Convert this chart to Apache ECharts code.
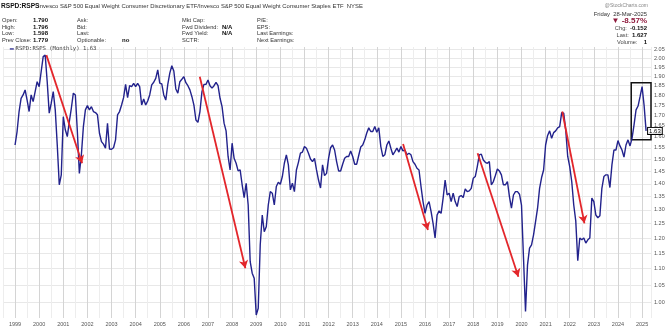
<!DOCTYPE html>
<html><head><meta charset="utf-8">
<script src="https://cdn.jsdelivr.net/npm/echarts@6/dist/echarts.min.js"></script>
<style>html,body{margin:0;padding:0;background:#fff}#c{width:670px;height:328px}</style>
</head><body><div id="c"></div>
<script>
// ---- data (monthly RSPD:RSPS ratio, Jan 1999 .. Mar 2025) ----
const startYear = 1999;
const ratio1999 = [1.563,1.624,1.719,1.785,1.802,1.828,1.776,1.719,1.802,1.768,1.819,1.871];
const ratio2000 = [1.845,1.926,2.009,2.018,1.871,1.711,1.760,1.819,1.727,1.563,1.396,1.436];
const ratio2001 = [1.694,1.632,1.601,1.670,1.735,1.811,1.802,1.624,1.442,1.520,1.647,1.727];
const ratio2002 = [1.748,1.727,1.743,1.719,1.714,1.703,1.616,1.578,1.567,1.549,1.663,1.545];
const ratio2003 = [1.544,1.551,1.586,1.703,1.719,1.751,1.788,1.857,1.788,1.850,1.845,1.862];
const ratio2004 = [1.845,1.862,1.845,1.751,1.781,1.751,1.771,1.802,1.854,1.868,1.889,1.935];
const ratio2005 = [1.864,1.859,1.802,1.776,1.857,1.917,1.958,1.929,1.833,1.811,1.871,1.884];
const ratio2006 = [1.898,1.866,1.850,1.828,1.793,1.751,1.678,1.667,1.719,1.819,1.857,1.857];
const ratio2007 = [1.880,1.850,1.837,1.850,1.868,1.850,1.785,1.743,1.663,1.627,1.513,1.456];
const ratio2008 = [1.571,1.505,1.484,1.452,1.456,1.396,1.346,1.402,1.318,1.122,1.086,1.070];
const ratio2009 = [0.964,0.983,1.177,1.281,1.222,1.239,1.318,1.369,1.363,1.318,1.389,1.406];
const ratio2010 = [1.398,1.429,1.484,1.520,1.477,1.376,1.402,1.369,1.456,1.488,1.527,1.532];
const ratio2011 = [1.556,1.549,1.527,1.502,1.491,1.505,1.456,1.415,1.383,1.477,1.433,1.442];
const ratio2012 = [1.505,1.551,1.563,1.541,1.491,1.452,1.452,1.480,1.505,1.513,1.513,1.537];
const ratio2013 = [1.513,1.480,1.480,1.517,1.554,1.563,1.586,1.617,1.641,1.624,1.624,1.647];
const ratio2014 = [1.621,1.641,1.556,1.513,1.520,1.563,1.581,1.549,1.520,1.534,1.549,1.532];
const ratio2015 = [1.556,1.537,1.541,1.520,1.527,1.520,1.491,1.480,1.463,1.456,1.389,1.331];
const ratio2016 = [1.287,1.318,1.331,1.294,1.251,1.200,1.281,1.296,1.287,1.344,1.415,1.356];
const ratio2017 = [1.363,1.331,1.363,1.331,1.312,1.350,1.354,1.346,1.380,1.369,1.372,1.382];
const ratio2018 = [1.422,1.429,1.470,1.520,1.523,1.498,1.488,1.484,1.491,1.396,1.409,1.433];
const ratio2019 = [1.460,1.452,1.436,1.396,1.396,1.409,1.350,1.306,1.356,1.369,1.369,1.359];
const ratio2020 = [1.318,1.134,0.974,1.112,1.166,1.177,1.211,1.257,1.306,1.382,1.425,1.456];
const ratio2021 = [1.563,1.606,1.627,1.593,1.619,1.627,1.641,1.647,1.714,1.711,1.632,1.513];
const ratio2022 = [1.470,1.409,1.318,1.260,1.125,1.200,1.194,1.200,1.183,1.194,1.200,1.344];
const ratio2023 = [1.331,1.281,1.271,1.278,1.382,1.429,1.436,1.436,1.385,1.477,1.541,1.541];
const ratio2024 = [1.583,1.559,1.541,1.510,1.563,1.586,1.559,1.593,1.655,1.727,1.746,1.793];
const ratio2025 = [1.845,1.750,1.627];

const yTickValues = [1.00,1.05,1.10,1.15,1.20,1.25,1.30,1.35,1.40,1.45,1.50,1.55,1.60,1.65,1.70,1.75,1.80,1.85,1.90,1.95,2.00,2.05];
const xYearLabels = [1999,2000,2001,2002,2003,2004,2005,2006,2007,2008,2009,2010,2011,2012,2013,2014,2015,2016,2017,2018,2019,2020,2021,2022,2023,2024,2025];
const lastValueLabel = '1.63';

// annotation arrows: [fromYear, fromValue, toYear, toValue]
const trendArrows = [
  [2000.30, 2.018, 2001.78, 1.484],
  [2006.66, 1.898, 2008.55, 1.101],
  [2015.09, 1.567, 2016.12, 1.228],
  [2018.18, 1.527, 2019.87, 1.075],
  [2021.69, 1.719, 2022.61, 1.251]
];
// annotation box: [fromYear, topValue, toYear, bottomValue]
const highlightBox = [2024.55, 1.866, 2025.37, 1.586];

// ---- build ----
const allValues = [].concat(ratio1999,ratio2000,ratio2001,ratio2002,ratio2003,ratio2004,ratio2005,
  ratio2006,ratio2007,ratio2008,ratio2009,ratio2010,ratio2011,ratio2012,ratio2013,ratio2014,
  ratio2015,ratio2016,ratio2017,ratio2018,ratio2019,ratio2020,ratio2021,ratio2022,ratio2023,
  ratio2024,ratio2025);
const seriesData = allValues.map((v, i) => [startYear + i / 12, Math.log(v)]);
const logTicks = yTickValues.map(v => Math.log(v));

const FONT = '"Liberation Sans", Arial, sans-serif';
function txt(text, x, y, size, opt) {
  opt = opt || {};
  return {
    type: 'text', silent: true, z: 10,
    style: Object.assign({
      text: text, x: x, y: y,
      font: (opt.bold ? 'bold ' : '') + size + 'px ' + (opt.family || FONT),
      fill: opt.fill || '#333',
      align: opt.align || 'left',
      verticalAlign: 'middle'
    }, opt.extra || {})
  };
}
const LS = 5.7;
const graphics = [
  txt('RSPD:RSPS', 1, 6, 6.6, {bold: true, fill: '#111'}),
  txt('Invesco S&P 500 Equal Weight Consumer Discretionary ETF/Invesco S&P 500 Equal Weight Consumer Staples ETF  NYSE', 38, 6.5, 5.9, {fill: '#333'}),
  // info block
  txt('Open:', 2, 20.5, LS), txt('1.790', 33, 20.5, 6, {bold: true, fill: '#111'}),
  txt('High:', 2, 27, LS), txt('1.796', 33, 27, 6, {bold: true, fill: '#111'}),
  txt('Low:', 2, 33.5, LS), txt('1.598', 33, 33.5, 6, {bold: true, fill: '#111'}),
  txt('Prev Close:', 2, 40, LS), txt('1.779', 33, 40, 6, {bold: true, fill: '#111'}),
  txt('Ask:', 77, 20.5, LS), txt('Bid:', 77, 27, LS), txt('Last:', 77, 33.5, LS),
  txt('Optionable:', 77, 40, LS), txt('no', 122, 40.5, 6, {bold: true, fill: '#111'}),
  txt('Mkt Cap:', 182, 20.5, LS),
  txt('Fwd Dividend:', 182, 27, LS), txt('N/A', 222, 27, 6, {bold: true, fill: '#111'}),
  txt('Fwd Yield:', 182, 33.5, LS), txt('N/A', 222, 33.5, 6, {bold: true, fill: '#111'}),
  txt('SCTR:', 182, 40, LS),
  txt('P/E:', 257, 20.5, LS), txt('EPS:', 257, 27, LS),
  txt('Last Earnings:', 257, 33.5, LS), txt('Next Earnings:', 257, 40, LS),
  // right block
  txt('@StockCharts.com', 648, 5.5, 5, {align: 'right', fill: '#888'}),
  txt('Friday  28-Mar-2025', 647, 14, 5.9, {align: 'right', fill: '#333'}),
  txt('\u25BC -8.57%', 647, 21, 8, {align: 'right', bold: true, fill: '#8e1a3c'}),
  txt('Chg:  -0.152', 647, 28, 5.6, {align: 'right', fill: '#222',
      extra: {text: '{a|Chg:}  {b|-0.152}', rich: {a: {font: '5.7px ' + FONT, fill: '#444'}, b: {font: 'bold 6px ' + FONT, fill: '#111'}}}}),
  txt('Last:  1.627', 647, 35.5, 5.6, {align: 'right', fill: '#222',
      extra: {text: '{a|Last:}  {b|1.627}', rich: {a: {font: '5.7px ' + FONT, fill: '#444'}, b: {font: 'bold 6px ' + FONT, fill: '#111'}}}}),
  txt('Volume:  1', 647, 42, 5.6, {align: 'right', fill: '#222',
      extra: {text: '{a|Volume:}    {b|1}', rich: {a: {font: '5.7px ' + FONT, fill: '#444'}, b: {font: 'bold 6px ' + FONT, fill: '#111'}}}}),
  // legend
  txt('RSPD:RSPS (Monthly) 1.63', 10, 49, 5.6, {fill: '#444',
      extra: {text: '{d|\u2501} {a|RSPD:RSPS (Monthly) 1.63}', rich: {
        d: {font: 'bold 6px ' + FONT, fill: '#22228c'},
        a: {font: '5.6px "DejaVu Sans Mono", "Liberation Mono", monospace', fill: '#444'}}}})
];

const chart = echarts.init(document.getElementById('c'), null, {renderer: 'canvas'});
chart.setOption({
  animation: false,
  backgroundColor: '#fff',
  grid: {left: 0, right: 19, top: 47, bottom: 10, containLabel: false},
  xAxis: {
    type: 'value',
    min: 1998.5, max: 2025.37, interval: 0.5,
    axisLine: {show: false},
    axisTick: {show: false},
    axisLabel: {
      fontSize: 5.5, color: '#555', margin: 3, fontFamily: FONT,
      formatter: v => (xYearLabels.indexOf(Math.round(v * 2) / 2) >= 0 ? String(Math.round(v)) : '')
    },
    splitLine: {show: true, lineStyle: {color: ['#ededed', '#d4d4d4'], width: 1}}
  },
  yAxis: {
    type: 'value', position: 'right',
    min: Math.log(0.956), max: Math.log(2.065),
    axisLine: {show: false},
    axisTick: {show: false, customValues: logTicks},
    axisLabel: {
      customValues: logTicks,
      fontSize: 5.5, color: '#555', margin: 3, fontFamily: FONT,
      formatter: v => Math.exp(v).toFixed(2)
    },
    splitLine: {show: true, lineStyle: {color: '#e8e8e8', width: 1}}
  },
  graphic: graphics,
  series: [{
    type: 'line',
    data: seriesData,
    showSymbol: false,
    symbol: 'none',
    lineStyle: {color: '#22228c', width: 1.4},
    itemStyle: {color: '#22228c'},
    z: 3,
    endLabel: {
      show: true, formatter: lastValueLabel, distance: 2,
      fontSize: 6, color: '#000', fontFamily: FONT,
      backgroundColor: '#fff', borderColor: '#000', borderWidth: 1, padding: [0, 1]
    },
    markLine: {
      silent: true, symbol: ['none', 'arrow'], symbolSize: [7, 8],
      label: {show: false},
      lineStyle: {color: '#e3262b', width: 1.8, type: 'solid'},
      emphasis: {disabled: true},
      data: trendArrows.map(a => [
        {coord: [a[0], Math.log(a[1])]},
        {coord: [a[2], Math.log(a[3])]}
      ])
    },
    markArea: {
      silent: true,
      itemStyle: {color: 'rgba(0,0,0,0)', borderColor: '#111', borderWidth: 1.5},
      label: {show: false},
      data: [[
        {coord: [highlightBox[0], Math.log(highlightBox[1])]},
        {coord: [highlightBox[2], Math.log(highlightBox[3])]}
      ]]
    }
  }]
});
</script>
</body></html>
